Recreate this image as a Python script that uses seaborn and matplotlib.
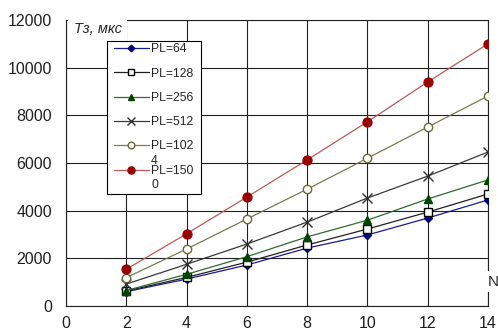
import numpy as np
import pandas as pd
import matplotlib
matplotlib.use("Agg")
import matplotlib.pyplot as plt
import seaborn as sns
from matplotlib.lines import Line2D
from matplotlib.legend_handler import HandlerLine2D

# ---- data ----
N = [2, 4, 6, 8, 10, 12, 14]
pl64 = [600, 1130, 1720, 2430, 2980, 3690, 4450]
pl128 = [630, 1200, 1840, 2560, 3230, 3940, 4700]
pl256 = [650, 1330, 2070, 2900, 3600, 4490, 5290]
pl512 = [920, 1750, 2600, 3520, 4530, 5450, 6460]
pl1024 = [1190, 2390, 3650, 4900, 6200, 7510, 8810]
pl1500 = [1540, 3030, 4570, 6130, 7730, 9400, 11000]
labels = ["PL=64\n", "PL=128\n", "PL=256\n", "PL=512\n", "PL=102\n4", "PL=150\n0"]
xticks = [0, 2, 4, 6, 8, 10, 12, 14]
yticks = [0, 2000, 4000, 6000, 8000, 10000, 12000]
ylabel_text = "Тз, мкс"
xlabel_text = "N"

sns.set_theme(style="white")
plt.rcParams["font.family"] = ["Liberation Sans", "DejaVu Sans"]

fig = plt.figure(figsize=(4.98, 3.35), dpi=100)
ax = fig.add_axes([66 / 498, 1 - 306 / 335, 422 / 498, 286 / 335])

series = [pl64, pl128, pl256, pl512, pl1024, pl1500]
styles = [
    dict(color="#1a1aa0", marker="D", markersize=4.2, mfc="#000080", mec="#000080"),
    dict(color="#202020", marker="s", markersize=5.2, mfc="white", mec="#000000"),
    dict(color="#2f6a2f", marker="^", markersize=6.0, mfc="#004400", mec="#004400"),
    dict(color="#383838", marker="x", markersize=6.5, mfc="#303030", mec="#303030"),
    dict(color="#7a7a4e", marker="o", markersize=6.0, mfc="white", mec="#6a6a3a"),
    dict(color="#c05858", marker="o", markersize=6.4, mfc="#990000", mec="#990000"),
]

for vals, st, lab in zip(series, styles, labels):
    sns.lineplot(x=N, y=vals, ax=ax, color=st["color"], marker=st["marker"],
                 markersize=st["markersize"], markerfacecolor=st["mfc"],
                 markeredgecolor=st["mec"], markeredgewidth=1.0,
                 linewidth=0.9, label=lab, legend=False, zorder=3)

ax.set_xlim(0, 14)
ax.set_ylim(0, 12000)
ax.set_xticks(xticks)
ax.set_yticks(yticks)
ax.set_xticklabels([str(t) for t in xticks])
ax.set_yticklabels([str(t) for t in yticks])
ax.tick_params(axis="both", direction="out", length=3, width=0.8, color="black",
               labelsize=11.5, labelcolor="#202020")
ax.tick_params(axis="y", pad=7)
ax.tick_params(axis="x", pad=4.5)
ax.grid(True, color="#202020", linewidth=0.8)
ax.set_axisbelow(True)
for sp in ax.spines.values():
    sp.set_color("#202020")
    sp.set_linewidth(0.8)
ax.set_xlabel("")
ax.set_ylabel("")

ax.text(0.018, 0.967, ylabel_text, transform=ax.transAxes, style="italic",
        fontsize=10.5, ha="left", va="center", zorder=5,
        bbox=dict(facecolor="white", edgecolor="none", pad=4))
ax.text(1.0, 0.084, xlabel_text, transform=ax.transAxes, fontsize=11,
        ha="left", va="center", zorder=5, clip_on=False,
        bbox=dict(facecolor="white", edgecolor="none", pad=2.5))


class UpHandler(HandlerLine2D):
    def __init__(self, shift, **kw):
        super().__init__(**kw)
        self.shift = shift

    def create_artists(self, legend, orig_handle, xdescent, ydescent, width,
                       height, fontsize, trans):
        arts = super().create_artists(legend, orig_handle, xdescent, ydescent,
                                      width, height, fontsize, trans)
        for a in arts:
            a.set_ydata(np.asarray(a.get_ydata(), dtype=float) + self.shift * fontsize)
        return arts


handles, labs = ax.get_legend_handles_labels()
leg = ax.legend(handles, labs, loc="upper left",
                bbox_to_anchor=(0.097, 0.5, 94 / 422, 0.427), mode="expand",
                borderaxespad=0, fontsize=8.7, frameon=True, fancybox=False,
                framealpha=1, edgecolor="black", handlelength=3.3,
                handletextpad=0.15, labelspacing=-0.2, borderpad=0.2,
                markerscale=0.8,
                handler_map={Line2D: UpHandler(0.72, xpad=0.35)})
leg.get_frame().set_linewidth(0.8)
leg.set_zorder(6)
for t in leg.get_texts():
    t.set_linespacing(1.3)

fig.savefig("out.png", dpi=100)
